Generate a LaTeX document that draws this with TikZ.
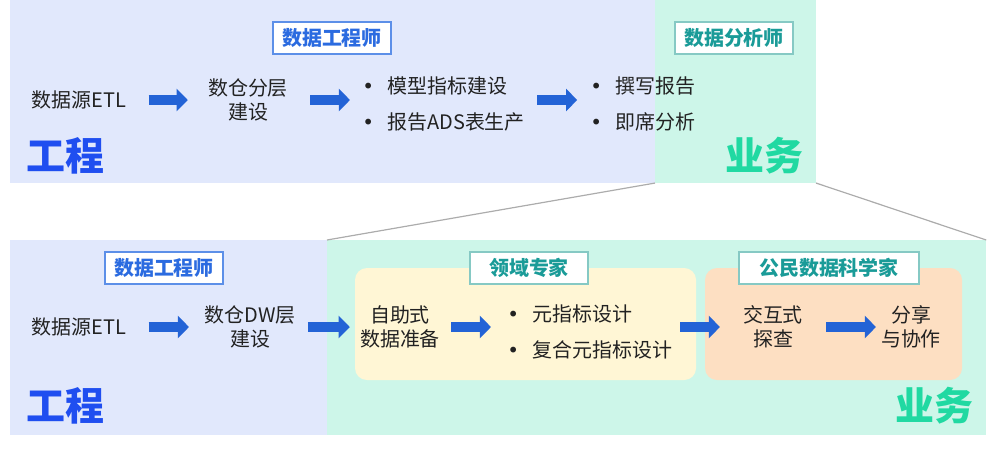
\documentclass[tikz,border=0pt]{standalone}
\usepackage{fontspec}
\setmainfont{Noto Sans CJK SC}
\newfontfamily\dotfont{DejaVu Sans}
\usepackage{tikz}
\usetikzlibrary{arrows.meta,positioning}

\definecolor{engbg}{HTML}{E1E8FC}
\definecolor{bizbg}{HTML}{CDF6E9}
\definecolor{selfbg}{HTML}{FFF6D5}
\definecolor{citbg}{HTML}{FDDFC2}
\definecolor{flowblue}{HTML}{2363D6}
\definecolor{engtext}{HTML}{1F4EF0}
\definecolor{biztext}{HTML}{20D9A2}
\definecolor{roleblue}{HTML}{2B6BE0}
\definecolor{rolebluebd}{HTML}{5C8FE8}
\definecolor{roleteal}{HTML}{1A9B98}
\definecolor{roletealbd}{HTML}{86C9C4}
\definecolor{inktext}{HTML}{222222}

\newcommand\dotitem{\makebox[0.625cm][l]{{\dotfont •}}}

\tikzset{
  panel/.style={anchor=north west, inner sep=0, outer sep=0, draw=none},
  txt/.style={inner sep=0, text=inktext, align=center, font=\fontsize{14.2}{17}\selectfont},
  items/.style={txt, align=left, anchor=west},
  bigword/.style={inner sep=0, font=\fontsize{27.7}{30}\selectfont\bfseries},
  rolebox/.style={draw=#1bd, text=#1, fill=white, line width=0.03cm, inner sep=0,
    minimum width=2.95cm, minimum height=0.8cm, font=\fontsize{14.2}{17}\selectfont\bfseries},
  flow/.style={draw=flowblue, line width=0.25cm, -{Triangle[length=0.28cm,width=0.55cm]}},
  zoomline/.style={draw=gray!65, line width=0.03cm}
}

\begin{document}
\begin{tikzpicture}[x=0.025cm, y=-0.025cm]
\useasboundingbox (0,0) rectangle (1000,456);

\node [panel, fill=engbg, minimum width=16.125cm, minimum height=4.575cm] (topeng) at (10,0) {};
\node [panel, fill=bizbg, minimum width=4.025cm, minimum height=4.575cm] (topbiz) at (655,0) {};
\node [panel, fill=engbg, minimum width=7.925cm, minimum height=4.875cm] (boteng) at (10,240) {};
\node [panel, fill=bizbg, minimum width=16.475cm, minimum height=4.875cm] (botbiz) at (327,240) {};
\node [panel, fill=selfbg, rounded corners=0.3cm, minimum width=8.525cm, minimum height=2.8cm] (selfbox) at (355,268) {};
\node [panel, fill=citbg, rounded corners=0.3cm, minimum width=6.425cm, minimum height=2.8cm] (citbox) at (705,268) {};

\draw [zoomline] (topbiz.south west) -- (botbiz.north west);
\draw [zoomline] (topbiz.south east) -- (botbiz.north east);

\node [rolebox=roleblue] (role1) at (332,38) {数据工程师};
\node [rolebox=roleteal] (role2) at (734,38) {数据分析师};
\node [rolebox=roleblue] (role3) at (164,268) {数据工程师};
\node [rolebox=roleteal] (role4) at (529,268) {领域专家};
\node [rolebox=roleteal, minimum width=4.5cm] (role5) at (829,268) {公民数据科学家};

\node [bigword, text=engtext] (eng1) at (65,156) {工程};
\node [bigword, text=biztext] (biz1) at (764,156) {业务};
\node [bigword, text=engtext] (eng2) at (65,406) {工程};
\node [bigword, text=biztext] (biz2) at (934,406) {业务};

\node [txt] (etl1) at (79,100) {数据源ETL};
\node [txt] (layer1) at (248,100) {数仓分层\\建设};
\node [items] (model1) at (362,104) {\dotitem 模型指标建设\\[0.3cm]\dotitem 报告ADS表生产};
\node [items] (report1) at (590,104) {\dotitem 撰写报告\\[0.3cm]\dotitem 即席分析};

\draw [flow, shorten <=0.55cm, shorten >=0.5cm] (etl1.east) -- (layer1.west);
\draw [flow, shorten <=0.55cm, shorten >=0.3cm] (layer1.east) -- (layer1.east -| model1.west);
\draw [flow, shorten <=0.3cm, shorten >=0.32cm] (model1.east |- layer1) -- (layer1 -| report1.west);

\node [txt] (etl2) at (79,327) {数据源ETL};
\node [txt] (dw2) at (250,327) {数仓DW层\\建设};
\node [txt] (prep2) at (400,327) {自助式\\数据准备};
\node [items] (meta2) at (507,332) {\dotitem 元指标设计\\[0.3cm]\dotitem 复合元指标设计};
\node [txt] (explore2) at (773,327) {交互式\\探查};
\node [txt] (share2) at (911,327) {分享\\与协作};

\draw [flow, shorten <=0.55cm, shorten >=0.38cm] (etl2.east) -- (dw2.west);
\draw [flow, shorten <=0.3cm, shorten >=0.25cm] (dw2.east) -- (prep2.west);
\draw [flow, shorten <=0.28cm, shorten >=0.4cm] (prep2.east) -- (prep2.east -| meta2.west);
\draw [flow, shorten <=0.2cm, shorten >=0.57cm] (meta2.east |- explore2) -- (explore2.west);
\draw [flow, shorten <=0.57cm, shorten >=0.12cm] (explore2.east) -- (share2.west);
\end{tikzpicture}
\end{document}
